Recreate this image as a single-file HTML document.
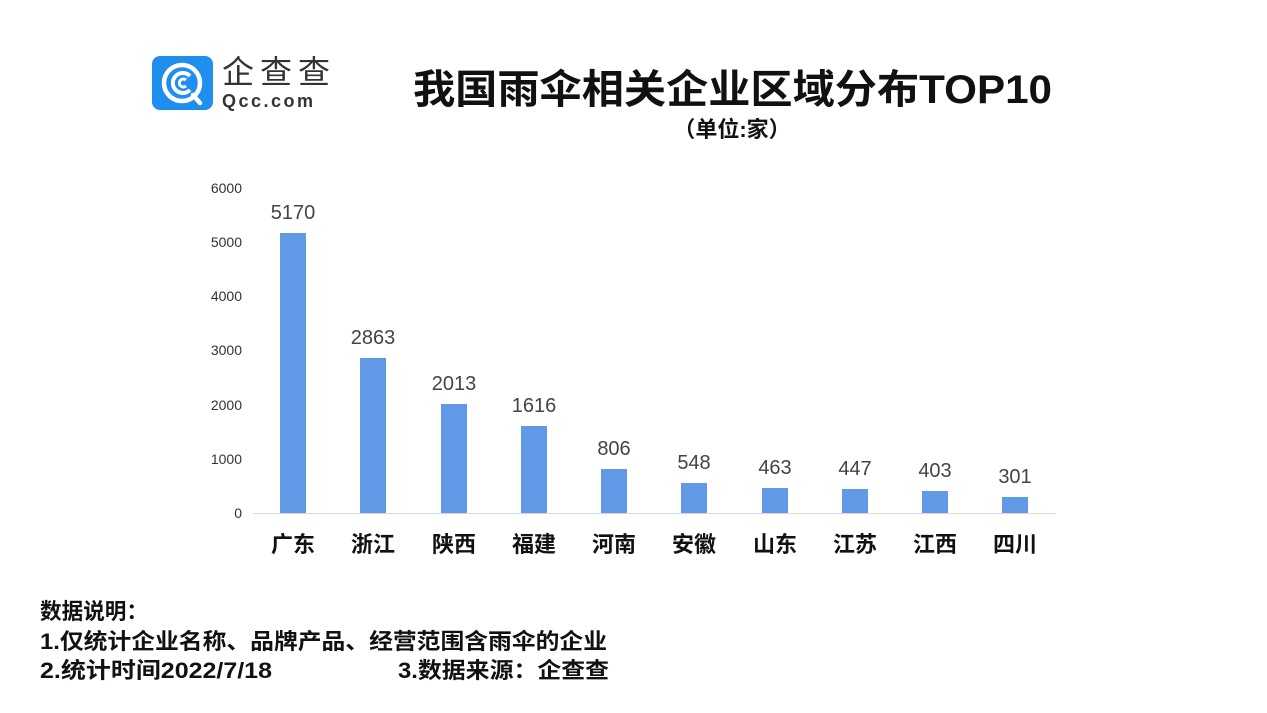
<!DOCTYPE html>
<html><head><meta charset="utf-8"><style>
body{margin:0;background:#fff;}
svg{display:block;font-family:"Liberation Sans","Noto Sans CJK SC",sans-serif;}
</style></head><body>
<svg width="1267" height="713" viewBox="0 0 1267 713">
<rect width="1267" height="713" fill="#fff"/>
<!-- logo -->
<rect x="152" y="56" width="61" height="54" rx="8" fill="#1e8fee"/>
<circle cx="182" cy="83" r="18" fill="none" stroke="#fff" stroke-width="4.5"/>
<path d="M190 76 A10 10 0 1 0 190 90" fill="none" stroke="#fff" stroke-width="4"/>
<path d="M186 80 A4 4 0 1 0 186 86" fill="none" stroke="#fff" stroke-width="3"/>
<path d="M193 95 L200 103" stroke="#fff" stroke-width="4.5" stroke-linecap="round"/>
<text x="222" y="83" font-size="32" fill="#333" font-family="Noto Sans CJK SC,sans-serif" textLength="108">企查查</text>
<text x="222" y="107" font-size="18" fill="#333" letter-spacing="2.5" font-weight="bold">Qcc.com</text>
<!-- title -->
<text x="413" y="103" font-size="40" font-weight="bold" fill="#111" textLength="639" lengthAdjust="spacingAndGlyphs">我国雨伞相关企业区域分布TOP10</text>
<text x="732" y="137" font-size="22" font-weight="bold" text-anchor="middle" fill="#111">（单位:家）</text>
<!-- axis -->
<g font-size="14" fill="#333" text-anchor="end">
<text x="242" y="193">6000</text><text x="242" y="247">5000</text><text x="242" y="301">4000</text>
<text x="242" y="355">3000</text><text x="242" y="410">2000</text><text x="242" y="464">1000</text><text x="242" y="518">0</text>
</g>
<line x1="253" y1="513.5" x2="1056" y2="513.5" stroke="#d9d9d9" stroke-width="1"/>
<g fill="#6199e6">
<rect x="280" y="233" width="26" height="280"/>
<rect x="360" y="358" width="26" height="155"/>
<rect x="441" y="404" width="26" height="109"/>
<rect x="521" y="426" width="26" height="87"/>
<rect x="601" y="469" width="26" height="44"/>
<rect x="681" y="483" width="26" height="30"/>
<rect x="762" y="488" width="26" height="25"/>
<rect x="842" y="489" width="26" height="24"/>
<rect x="922" y="491" width="26" height="22"/>
<rect x="1002" y="497" width="26" height="16"/>
</g>
<g font-size="20" fill="#444" text-anchor="middle">
<text x="293" y="219">5170</text><text x="373" y="344">2863</text><text x="454" y="390">2013</text>
<text x="534" y="412">1616</text><text x="614" y="455">806</text><text x="694" y="469">548</text>
<text x="775" y="474">463</text><text x="855" y="475">447</text><text x="935" y="477">403</text><text x="1015" y="483">301</text>
</g>
<g font-size="22" font-weight="bold" fill="#111" text-anchor="middle">
<text x="293" y="552">广东</text><text x="373" y="552">浙江</text><text x="454" y="552">陕西</text>
<text x="534" y="552">福建</text><text x="614" y="552">河南</text><text x="694" y="552">安徽</text>
<text x="775" y="552">山东</text><text x="855" y="552">江苏</text><text x="935" y="552">江西</text><text x="1015" y="552">四川</text>
</g>
<g font-size="22" font-weight="bold" fill="#111">
<text x="40" y="619" textLength="108" lengthAdjust="spacingAndGlyphs">数据说明：</text>
<text x="40" y="649" textLength="567" lengthAdjust="spacingAndGlyphs">1.仅统计企业名称、品牌产品、经营范围含雨伞的企业</text>
<text x="40" y="678" textLength="232" lengthAdjust="spacingAndGlyphs">2.统计时间2022/7/18</text>
<text x="398" y="678" textLength="211" lengthAdjust="spacingAndGlyphs">3.数据来源：企查查</text>
</g>
</svg>
</body></html>
